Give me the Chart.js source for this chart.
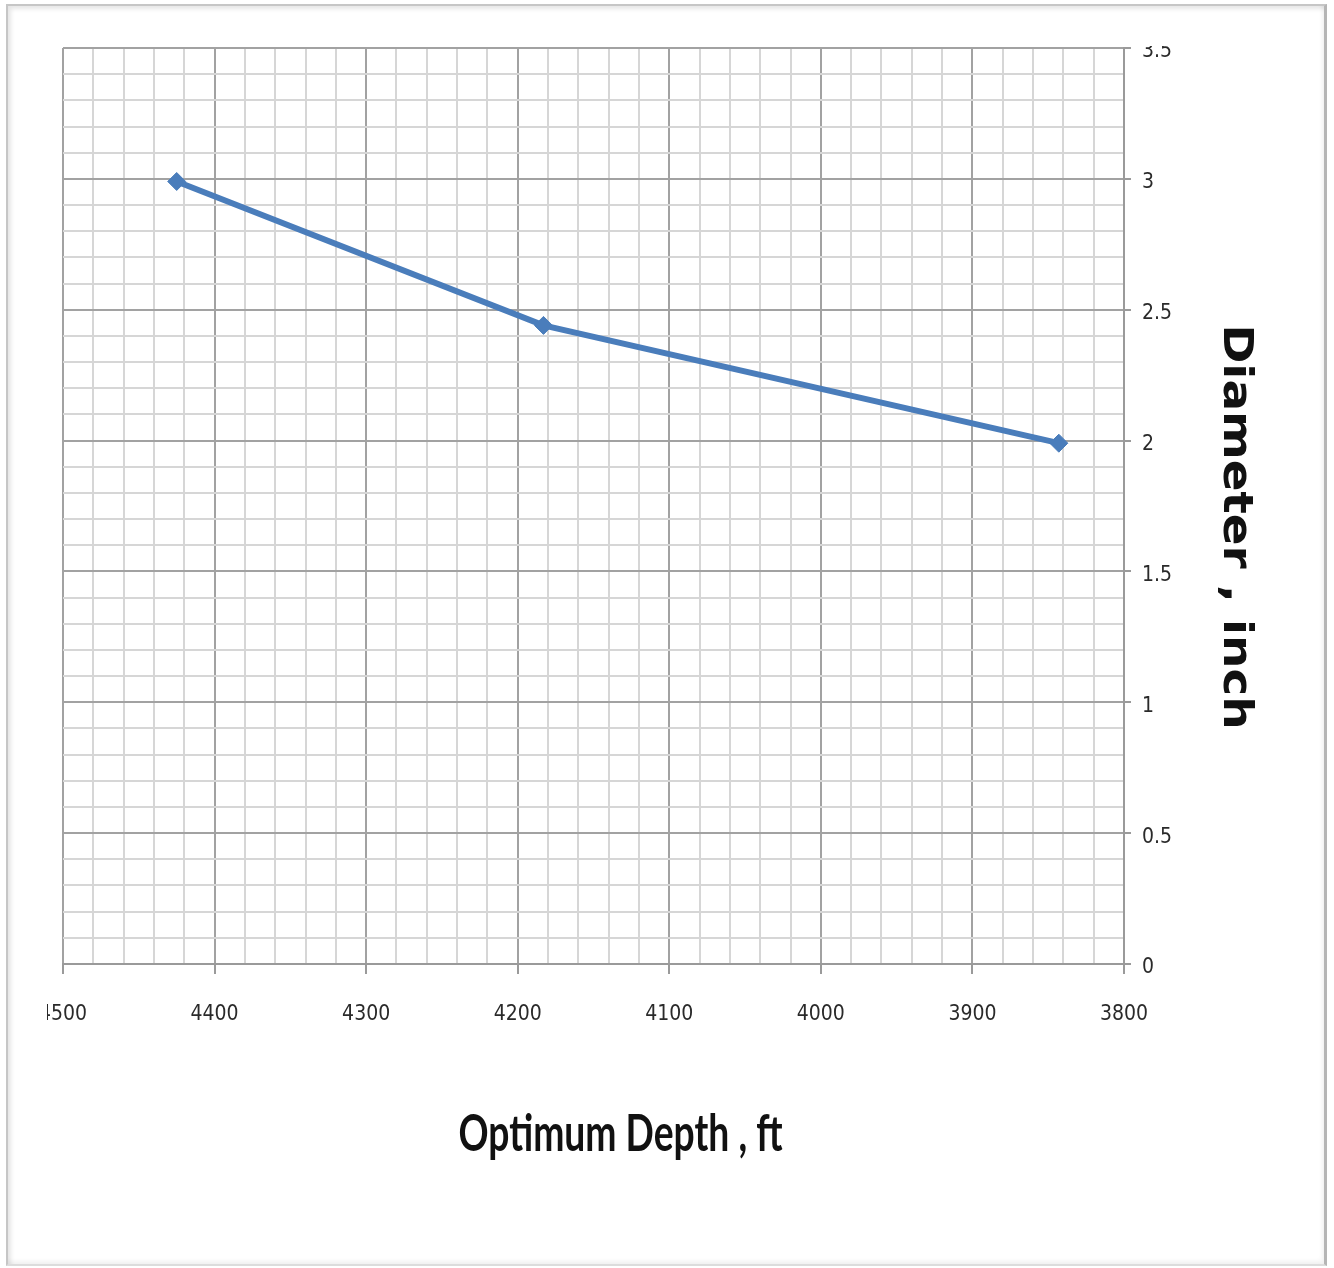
<!DOCTYPE html>
<html>
<head>
<meta charset="utf-8">
<title>Optimum Depth vs Diameter</title>
<script src="https://cdn.jsdelivr.net/npm/chart.js@4.4.1/dist/chart.umd.min.js"></script>
<style>
  html, body { margin: 0; padding: 0; background: #fff; }
  body { width: 1334px; height: 1268px; position: relative; overflow: hidden; }
  #frame {
    position: absolute; left: 6px; top: 4px; width: 1321px; height: 1262px;
    box-sizing: border-box;
    border: 2px solid #c6c6c6; border-right: 3px solid #b5b5b5; border-bottom: 2px solid #dcdcdc;
    box-shadow: inset 3px 3px 4px rgba(0,0,0,0.10), inset -2px -3px 4px rgba(0,0,0,0.06);
  }
  #clip { position: absolute; left: 47px; top: 46px; right: 0; bottom: 0; overflow: hidden; }
  #chart { position: absolute; left: -47px; top: -46px; width: 1334px; height: 1268px; }
</style>
</head>
<body>
<div id="frame"></div>
<div id="clip"><canvas id="chart" width="1334" height="1268"></canvas></div>
<script>
// Measured points: optimum depth (ft) and pipe diameter (inch)
const depthFt    = [4425, 4183, 3843];
const diameterIn = [2.99, 2.44, 1.99];

// Labelled (major) tick values on each axis
const xMajorTicks = [4500, 4400, 4300, 4200, 4100, 4000, 3900, 3800];
const yMajorTicks = [0, 0.5, 1, 1.5, 2, 2.5, 3, 3.5];

const xTitle = 'Optimum Depth , ft';
const yTitle = 'Diameter , inch';

const tickFont = "'Liberation Sans Narrow', 'DejaVu Sans Condensed', 'Arial Narrow', sans-serif";

const isMajorX = v => xMajorTicks.includes(v);
const isMajorY = v => yMajorTicks.some(m => Math.abs(m - v) < 1e-6);

// Axis titles: a condensed bold caption under the x axis and a rotated one right of the y axis
const axisTitles = {
  id: 'axisTitles',
  afterDraw(chart) {
    const { ctx, chartArea } = chart;

    ctx.save();
    ctx.fillStyle = '#111';
    ctx.textAlign = 'center';
    ctx.textBaseline = 'alphabetic';
    ctx.font = "bold 51px Lato, 'Open Sans', sans-serif";
    const w = ctx.measureText(xTitle).width;
    const targetW = 324;
    ctx.translate((chartArea.left + chartArea.right) / 2 + 27, chartArea.bottom + 187);
    ctx.scale(targetW / w, 1);
    ctx.fillText(xTitle, 0, 0);
    ctx.restore();

    ctx.save();
    ctx.fillStyle = '#111';
    ctx.textAlign = 'center';
    ctx.textBaseline = 'middle';
    ctx.font = "bold 40px 'DejaVu Sans', Verdana, sans-serif";
    ctx.translate(chartArea.right + 110, (chartArea.top + chartArea.bottom) / 2 + 21);
    ctx.rotate(Math.PI / 2);
    ctx.scale(1.17, 1);
    ctx.fillText(yTitle, 0, 0);
    ctx.restore();
  }
};

const CANVAS_W = 1334, CANVAS_H = 1268;

new Chart(document.getElementById('chart'), {
  type: 'scatter',
  data: {
    datasets: [{
      data: depthFt.map((x, i) => ({ x, y: diameterIn[i] })),
      showLine: true,
      borderColor: '#4a7dbb',
      backgroundColor: '#4a7dbb',
      borderWidth: 6,
      pointStyle: 'rectRot',
      pointRadius: 9,
      pointHoverRadius: 9,
      pointBorderWidth: 1,
      tension: 0
    }]
  },
  options: {
    responsive: false,
    animation: false,
    events: [],
    layout: { padding: { left: 63, top: 48, right: 0, bottom: 0 } },
    plugins: { legend: { display: false }, tooltip: { enabled: false } },
    scales: {
      x: {
        type: 'linear',
        position: 'bottom',
        reverse: true,
        min: 3800,
        max: 4500,
        afterFit: s => { s.height = CANVAS_H - 964; },
        ticks: {
          stepSize: 20,
          autoSkip: false,
          maxRotation: 0,
          minRotation: 0,
          padding: 28,
          color: '#2a2a2a',
          font: { family: tickFont, size: 21 },
          callback: v => isMajorX(v) ? String(v) : ''
        },
        grid: {
          color: c => (c.tick && isMajorX(c.tick.value)) ? '#a2a2a2' : '#d6d6d6',
          lineWidth: 2,
          tickLength: 10,
          tickWidth: 2,
          tickColor: c => (c.tick && isMajorX(c.tick.value)) ? '#9a9a9a' : 'rgba(0,0,0,0)'
        },
        border: { color: '#9a9a9a', width: 2 }
      },
      y: {
        type: 'linear',
        position: 'right',
        min: 0,
        max: 3.5,
        afterFit: s => { s.width = CANVAS_W - 1124; },
        ticks: {
          stepSize: 0.1,
          autoSkip: false,
          padding: 11,
          labelOffset: 4,
          color: '#2a2a2a',
          font: { family: tickFont, size: 21 },
          callback: v => isMajorY(v) ? String(Math.round(v * 10) / 10) : ''
        },
        grid: {
          color: c => (c.tick && isMajorY(c.tick.value)) ? '#a2a2a2' : '#d6d6d6',
          lineWidth: 2,
          tickLength: 7,
          tickWidth: 2,
          tickColor: c => (c.tick && isMajorY(c.tick.value)) ? '#9a9a9a' : 'rgba(0,0,0,0)'
        },
        border: { color: '#9a9a9a', width: 2 }
      }
    }
  },
  plugins: [axisTitles]
});
</script>
</body>
</html>
